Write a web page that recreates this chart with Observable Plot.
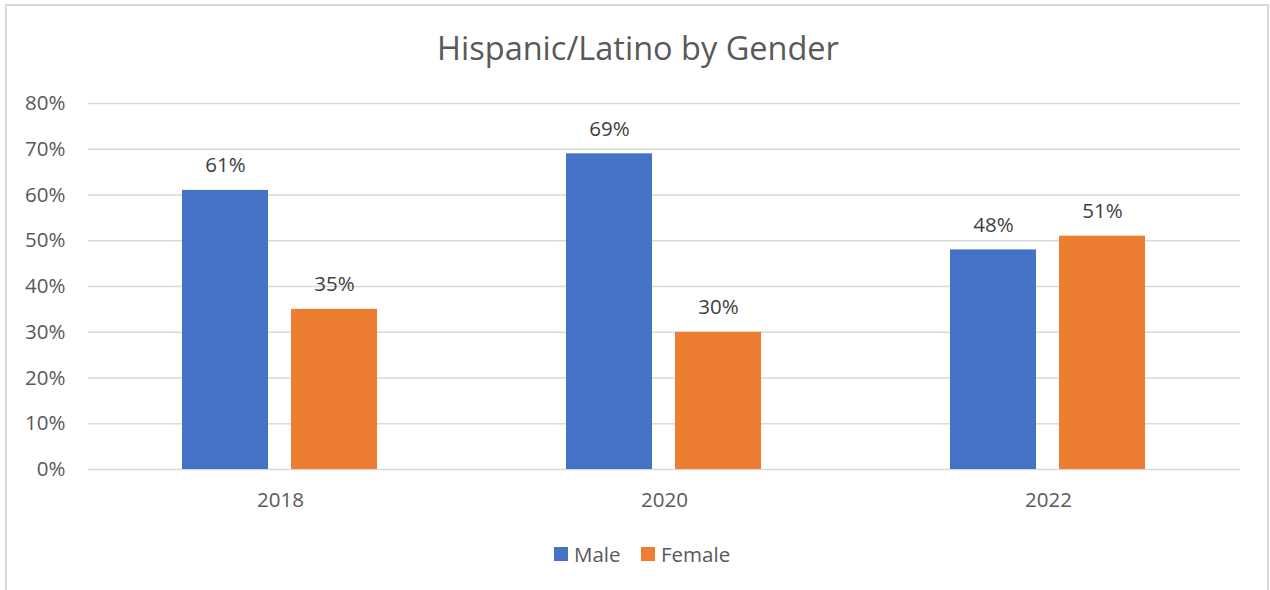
<!DOCTYPE html>
<html>
<head>
<meta charset="utf-8">
<script src="https://cdn.jsdelivr.net/npm/d3@7"></script>
<script src="https://cdn.jsdelivr.net/npm/@observablehq/plot@0.6"></script>
<style>
  html, body { margin: 0; padding: 0; background: #fff; }
  body { width: 1270px; height: 590px; overflow: hidden; position: relative; font-family: "Open Sans", sans-serif; }
  #frame { position: absolute; left: 5px; top: 4px; width: 1264px; height: 600px; border: 2px solid #d9d9d9; box-sizing: border-box; }
  #title { position: absolute; left: 3px; width: 1270px; top: 32px; text-align: center; font-size: 32.5px; line-height: 1; color: #595959; }
  #chart { position: absolute; left: 0; top: 0; }
  .sw { position: absolute; width: 14px; height: 14px; top: 547px; }
  .lt { position: absolute; top: 544px; font-size: 20.5px; line-height: 1; color: #595959; }
</style>
</head>
<body>
<div id="frame"></div>
<div id="chart"></div>
<div id="title">Hispanic/Latino by Gender</div>
<div id="legend"></div>
<script>
const years = ["2018", "2020", "2022"];
const genders = ["Male", "Female"];
const maleValues = [0.61, 0.69, 0.48];
const femaleValues = [0.35, 0.30, 0.51];
const colors = ["#4472C4", "#ED7D31"];
const yTicks = [0, 0.1, 0.2, 0.3, 0.4, 0.5, 0.6, 0.7, 0.8];

const data = [];
years.forEach((yr, i) => {
  data.push({year: yr, gender: "Male", value: maleValues[i]});
  data.push({year: yr, gender: "Female", value: femaleValues[i]});
});

const pct = d3.format(".0%");

const plot = Plot.plot({
  width: 1270,
  height: 590,
  marginLeft: 87,
  marginRight: 29,
  marginTop: 103,
  marginBottom: 121,
  style: {fontFamily: "Open Sans, sans-serif", fontSize: "20.5px", background: "transparent", color: "#595959"},
  fx: {domain: years, padding: 0, label: null, axis: null},
  x: {domain: genders, paddingInner: 0.209, paddingOuter: 0.853, axis: null},
  y: {domain: [0, 0.8], label: null},
  color: {domain: genders, range: colors},
  marks: [
    Plot.ruleY(yTicks, {stroke: "#d9d9d9", strokeWidth: 1.5}),
    Plot.barY(data, {fx: "year", x: "gender", y: "value", fill: "gender"}),
    Plot.text(data, {fx: "year", x: "gender", y: "value", text: d => pct(d.value), lineAnchor: "bottom", dy: -18, fill: "#404040"}),
    Plot.axisY({ticks: yTicks, tickFormat: pct, tickSize: 0, tickPadding: 23, label: null, fill: "#595959"}),
    Plot.axisFx({anchor: "bottom", tickSize: 0, tickPadding: 23, label: null, fill: "#595959"})
  ]
});
document.getElementById("chart").appendChild(plot);

const legend = document.getElementById("legend");
const swLeft = [554, 641];
genders.forEach((g, i) => {
  const sw = document.createElement("div");
  sw.className = "sw";
  sw.style.left = swLeft[i] + "px";
  sw.style.background = colors[i];
  legend.appendChild(sw);
  const t = document.createElement("span");
  t.className = "lt";
  t.style.left = (swLeft[i] + 20) + "px";
  t.textContent = g;
  legend.appendChild(t);
});
</script>
</body>
</html>
